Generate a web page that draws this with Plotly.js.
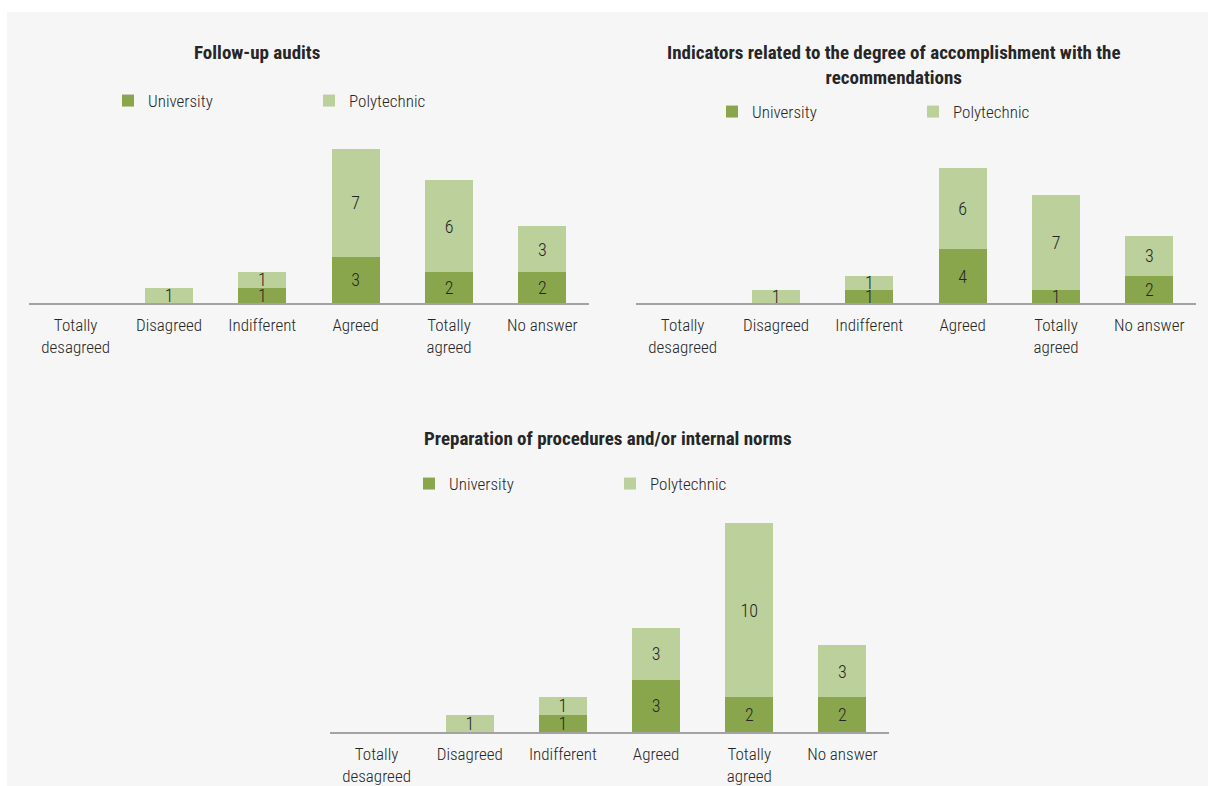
<!DOCTYPE html>
<html>
<head>
<meta charset="utf-8">
<script src="https://cdn.plot.ly/plotly-3.0.1.min.js"></script>
<style>
  html, body { margin: 0; padding: 0; background: #ffffff; }
  #chart { position: absolute; left: 7px; top: 12px; width: 1201px; height: 774px; }
</style>
</head>
<body>
<div id="chart"></div>
<script>
const categories = ['Totally<br>desagreed', 'Disagreed', 'Indifferent', 'Agreed', 'Totally<br>agreed', 'No answer'];
const seriesNames = ['University', 'Polytechnic'];

const titleFollowUp = 'Follow-up audits';
const followUpUniversity = [0, 0, 1, 3, 2, 2];
const followUpPolytechnic = [0, 1, 1, 7, 6, 3];

const titleIndicators = 'Indicators related to the degree of accomplishment with the<br>recommendations';
const indicatorsUniversity = [0, 0, 1, 4, 1, 2];
const indicatorsPolytechnic = [0, 1, 1, 6, 7, 3];

const titleProcedures = 'Preparation of procedures and/or internal norms';
const proceduresUniversity = [0, 0, 1, 3, 2, 2];
const proceduresPolytechnic = [0, 1, 1, 3, 10, 3];

const colUniversity = '#8aa64c';
const colPolytechnic = '#bbd09a';
const FONT = '"Liberation Sans Narrow", "Roboto Condensed", "Arial Narrow", Roboto, sans-serif';
const TXT = '#262626';

function labels(vals) { return vals.map(v => v === 0 ? '' : String(v)); }

function barTrace(name, vals, color, xa, ya, legend) {
  return {
    type: 'bar', name: name, x: categories, y: vals,
    text: labels(vals), textposition: 'inside', insidetextanchor: 'middle',
    constraintext: 'none', textangle: 0,
    textfont: { family: FONT, size: 18, color: TXT, weight: 300 },
    marker: { color: color, line: { width: 0 } },
    xaxis: xa, yaxis: ya, legend: legend, hoverinfo: 'skip'
  };
}

const data = [
  barTrace(seriesNames[0], followUpUniversity, colUniversity, 'x', 'y', 'legend'),
  barTrace(seriesNames[1], followUpPolytechnic, colPolytechnic, 'x', 'y', 'legend'),
  barTrace(seriesNames[0], indicatorsUniversity, colUniversity, 'x2', 'y2', 'legend2'),
  barTrace(seriesNames[1], indicatorsPolytechnic, colPolytechnic, 'x2', 'y2', 'legend2'),
  barTrace(seriesNames[0], proceduresUniversity, colUniversity, 'x3', 'y3', 'legend3'),
  barTrace(seriesNames[1], proceduresPolytechnic, colPolytechnic, 'x3', 'y3', 'legend3')
];

const W = 1201, H = 774, OX = 7, OY = 12;
function fx(px) { return (px - OX) / W; }
function fy(py) { return 1 - (py - OY) / H; }

function xAxis(anchor, x0, x1) {
  return {
    domain: [fx(x0), fx(x1)], anchor: anchor, type: 'category',
    showline: true, linecolor: '#a3a3a3', linewidth: 1.5,
    showgrid: false, zeroline: false, ticks: '', fixedrange: true,
    ticklabelstandoff: 6,
    tickfont: { family: FONT, size: 17, color: TXT, weight: 300 }
  };
}
function yAxis(anchor, yBottom, yTop, maxV) {
  return {
    domain: [fy(yBottom), fy(yTop)], anchor: anchor, range: [0, maxV],
    visible: false, fixedrange: true
  };
}
function legendAt(px, py) {
  return {
    orientation: 'h', x: fx(px), y: fy(py), xanchor: 'left', yanchor: 'middle',
    traceorder: 'normal',
    bgcolor: 'rgba(0,0,0,0)', entrywidth: 156, entrywidthmode: 'pixels',
    font: { family: FONT, size: 17, color: TXT, weight: 300 }, itemclick: false, itemdoubleclick: false
  };
}
function titleAnn(text, px, py) {
  return {
    text: '<b>' + text + '</b>', x: fx(px), y: fy(py), xref: 'paper', yref: 'paper',
    xanchor: 'center', yanchor: 'middle', showarrow: false,
    font: { family: FONT, size: 19, color: TXT }
  };
}

const layout = {
  width: W, height: H,
  margin: { l: 0, r: 0, t: 0, b: 0, pad: 0 },
  paper_bgcolor: '#f6f6f6', plot_bgcolor: 'rgba(0,0,0,0)',
  barmode: 'stack', bargap: 0.485,
  xaxis: xAxis('y', 29, 589), yaxis: yAxis('x', 303, 149, 10),
  xaxis2: xAxis('y2', 636, 1196), yaxis2: yAxis('x2', 303, 168, 10),
  xaxis3: xAxis('y3', 330, 889), yaxis3: yAxis('x3', 732, 523, 12),
  legend: legendAt(108, 101),
  legend2: legendAt(712, 112),
  legend3: legendAt(409, 484),
  annotations: [
    titleAnn(titleFollowUp, 257, 53),
    titleAnn(titleIndicators, 894, 65),
    titleAnn(titleProcedures, 608, 438)
  ]
};

Plotly.newPlot('chart', data, layout, { displayModeBar: false, staticPlot: true });
</script>
</body>
</html>
